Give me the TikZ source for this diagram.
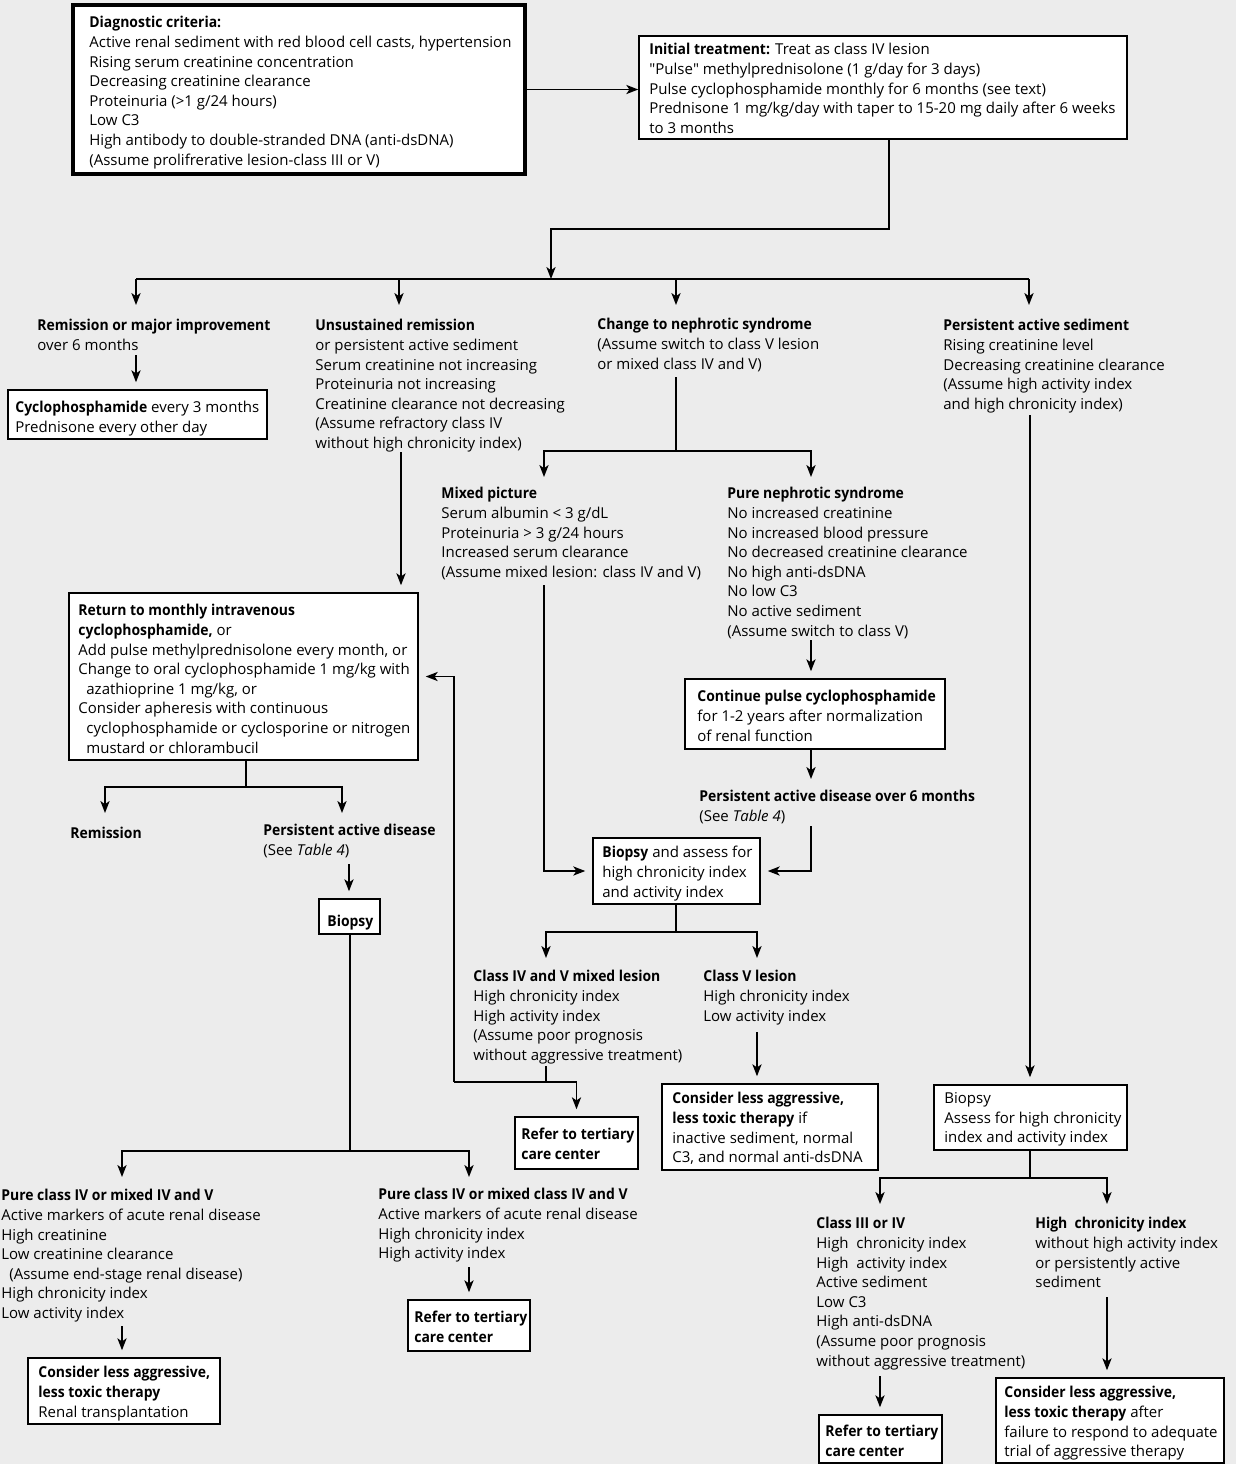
\documentclass[tikz,border=0pt]{standalone}
\usepackage{fontspec}
\setmainfont{Open Sans}[BoldFeatures={FakeStretch=0.93}]
\usetikzlibrary{arrows.meta,fit}
\definecolor{paper}{RGB}{236,236,236}
\newcommand{\chartfont}{\fontsize{7.5}{9.8}\selectfont}

\begin{document}
\begin{tikzpicture}[x=0.5pt, y=-0.5pt,
	line/.style={line width=0.75pt},
	arr/.style={line, -{Stealth[length=6pt, width=4.6pt, inset=1.6pt]}},
	tobox/.style={arr, shorten >=3.5pt},
	box/.style={draw, fill=white, line width=0.75pt, inner sep=0pt},
	txt/.style={anchor=north west, inner sep=0pt, yshift=-1.5pt, align=left, font=\chartfont, execute at begin node=\strut}]
	\fill[paper] (0,0) rectangle (1236,1464);

	\node[box, line width=1.9pt, fit={(73,5) (525,174)}] (diag) {};
	\node[box, fit={(639,36) (1127,139)}] (init) {};
	\node[box, fit={(8,390) (267,439)}] (cyc) {};
	\node[box, fit={(69,593) (418,760)}] (ret) {};
	\node[box, fit={(685,679) (945,749)}] (cont) {};
	\node[box, fit={(319,899) (380,934)}] (bio1) {};
	\node[box, fit={(593,838) (760,904)}] (bioA) {};
	\node[box, fit={(515,1117) (638,1169)}] (ref1) {};
	\node[box, fit={(662,1084) (878,1170)}] (cons1) {};
	\node[box, fit={(934,1085) (1127,1150)}] (bio2) {};
	\node[box, fit={(28,1358) (220,1424)}] (consL) {};
	\node[box, fit={(408,1300) (530,1351)}] (ref2) {};
	\node[box, fit={(819,1415) (942,1463)}] (ref3) {};
	\node[box, fit={(996,1378) (1224,1463)}] (consR) {};

	\node[txt] (diagT) at (89,13) {\textbf{Diagnostic criteria:}\\
		Active renal sediment with red blood cell casts, hypertension\\
		Rising serum creatinine concentration\\
		Decreasing creatinine clearance\\
		Proteinuria (>1 g/24 hours)\\
		Low C3\\
		High antibody to double-stranded DNA (anti-dsDNA)\\
		(Assume prolifrerative lesion-class III or V)};
	\node[txt] (initT) at (649,40) {\textbf{Initial treatment:} Treat as class IV lesion\\
		\textquotedbl Pulse\textquotedbl\ methylprednisolone (1 g/day for 3 days)\\
		Pulse cyclophosphamide monthly for 6 months (see text)\\
		Prednisone 1 mg/kg/day with taper to 15-20 mg daily after 6 weeks\\
		to 3 months};
	\node[txt] (remT) at (37,316) {\textbf{Remission or major improvement}\\ over 6 months};
	\node[txt] (unsT) at (315,316) {\textbf{Unsustained remission}\\
		or persistent active sediment\\
		Serum creatinine not increasing\\
		Proteinuria not increasing\\
		Creatinine clearance not decreasing\\
		(Assume refractory class IV\\
		without high chronicity index)};
	\node[txt] (chgT) at (597,315) {\textbf{Change to nephrotic syndrome}\\
		(Assume switch to class V lesion\\
		or mixed class IV and V)};
	\node[txt] (perT) at (943,316) {\textbf{Persistent active sediment}\\
		Rising creatinine level\\
		Decreasing creatinine clearance\\
		(Assume high activity index\\
		and high chronicity index)};
	\node[txt] (cycT) at (15,398) {\textbf{Cyclophosphamide} every 3 months\\ Prednisone every other day};
	\node[txt] (mixT) at (441,484) {\textbf{Mixed picture}\\
		Serum albumin < 3 g/dL\\
		Proteinuria > 3 g/24 hours\\
		Increased serum clearance\\
		(Assume mixed lesion: class IV and V)};
	\node[txt] (pureT) at (727,484) {\textbf{Pure nephrotic syndrome}\\
		No increased creatinine\\
		No increased blood pressure\\
		No decreased creatinine clearance\\
		No high anti-dsDNA\\
		No low C3\\
		No active sediment\\
		(Assume switch to class V)};
	\node[txt] (retT) at (78,601) {\textbf{Return to monthly intravenous}\\
		\textbf{cyclophosphamide,} or\\
		Add pulse methylprednisolone every month, or\\
		Change to oral cyclophosphamide 1 mg/kg with\\
		\hspace*{4pt}azathioprine 1 mg/kg, or\\
		Consider apheresis with continuous\\
		\hspace*{4pt}cyclophosphamide or cyclosporine or nitrogen\\
		\hspace*{4pt}mustard or chlorambucil};
	\node[txt] (contT) at (697,687) {\textbf{Continue pulse cyclophosphamide}\\
		for 1-2 years after normalization\\
		of renal function};
	\node[txt] (padT) at (699,787) {\textbf{Persistent active disease over 6 months}\\ (See \textit{Table 4})};
	\node[txt] (remisT) at (70,821) {\textbf{Remission}};
	\node[txt] (padLT) at (263,821) {\textbf{Persistent active disease}\\ (See \textit{Table 4})};
	\node[txt] (bio1T) at (327,909) {\textbf{Biopsy}};
	\node[txt] (bioAT) at (602,843) {\textbf{Biopsy} and assess for\\
		high chronicity index\\
		and activity index};
	\node[txt] (clmT) at (473,967) {\textbf{Class IV and V mixed lesion}\\
		High chronicity index\\
		High activity index\\
		(Assume poor prognosis\\
		without aggressive treatment)};
	\node[txt] (clvT) at (703,967) {\textbf{Class V lesion}\\
		High chronicity index\\
		Low activity index};
	\node[txt] (ref1T) at (521,1125) {\textbf{Refer to tertiary}\\ \textbf{care center}};
	\node[txt] (cons1T) at (672,1089) {\textbf{Consider less aggressive,}\\
		\textbf{less toxic therapy} if\\
		inactive sediment, normal\\
		C3, and normal anti-dsDNA};
	\node[txt] (bio2T) at (944,1089) {Biopsy\\
		Assess for high chronicity\\
		index and activity index};
	\node[txt] (pcLT) at (1,1186) {\textbf{Pure class IV or mixed IV and V}\\
		Active markers of acute renal disease\\
		High creatinine\\
		Low creatinine clearance\\
		\hspace*{4pt}(Assume end-stage renal disease)\\
		High chronicity index\\
		Low activity index};
	\node[txt] (pcMT) at (378,1185) {\textbf{Pure class IV or mixed class IV and V}\\
		Active markers of acute renal disease\\
		High chronicity index\\
		High activity index};
	\node[txt] (consLT) at (38,1363) {\textbf{Consider less aggressive,}\\
		\textbf{less toxic therapy}\\
		Renal transplantation};
	\node[txt] (ref2T) at (414,1308) {\textbf{Refer to tertiary}\\ \textbf{care center}};
	\node[txt] (c34T) at (816,1214) {\textbf{Class III or IV}\\
		High\ \ chronicity index\\
		High\ \ activity index\\
		Active sediment\\
		Low C3\\
		High anti-dsDNA\\
		(Assume poor prognosis\\
		without aggressive treatment)};
	\node[txt] (hciT) at (1035,1214) {\textbf{High\ \ chronicity index}\\
		without high activity index\\
		or persistently active\\
		sediment};
	\node[txt] (ref3T) at (825,1422) {\textbf{Refer to tertiary}\\ \textbf{care center}};
	\node[txt] (consRT) at (1004,1383) {\textbf{Consider less aggressive,}\\
		\textbf{less toxic therapy} after\\
		failure to respond to adequate\\
		trial of aggressive therapy};

	\coordinate (j0) at (551,229);
	\coordinate (bar) at (551,279);
	\coordinate (barL) at (136,279);
	\coordinate (barR) at (1029,279);
	\coordinate (remA) at (136,305);
	\coordinate (unsA) at (399,305);
	\coordinate (chgA) at (676,305);
	\coordinate (perA) at (1029,305);
	\coordinate (remO) at (136,355);
	\coordinate (unsO) at (401,452);
	\coordinate (chgO) at (676,377);
	\coordinate (j1) at (676,451);
	\coordinate (mixA) at (544,477);
	\coordinate (pureA) at (811,477);
	\coordinate (mixO) at (544,585);
	\coordinate (pureO) at (811,640);
	\coordinate (padA) at (811,779);
	\coordinate (padO) at (811,826);
	\coordinate (j2) at (246,787);
	\coordinate (remisA) at (105,813);
	\coordinate (padLA) at (342,813);
	\coordinate (padLO) at (349,864);
	\coordinate (j3) at (350,1151);
	\coordinate (pcLA) at (122,1177);
	\coordinate (pcMA) at (469,1177);
	\coordinate (pcLO) at (122,1326);
	\coordinate (pcMO) at (469,1267);
	\coordinate (j4) at (676,932);
	\coordinate (clmA) at (546,958);
	\coordinate (clvA) at (757,958);
	\coordinate (clmO) at (546,1066);
	\coordinate (j5) at (546,1082);
	\coordinate (j6) at (454,1082);
	\coordinate (clvO) at (757,1032);
	\coordinate (perO) at (1030,415);
	\coordinate (j7) at (1030,1178);
	\coordinate (c34A) at (880,1204);
	\coordinate (hciA) at (1107,1204);
	\coordinate (c34O) at (880,1376);
	\coordinate (hciO) at (1107,1297);

	\draw[arr] (diag.east) -- (diag.east -| init.west);
	\draw[arr] ([xshift=3pt]init.south) |- (j0) -- (bar);
	\draw[line] (barL) -- (barR);
	\foreach \n in {remA,unsA,chgA,perA}{
			\draw[arr] (bar -| \n) -- (\n);
		}
	\draw[tobox] (remO) -- (cyc.north -| remO);
	\draw[tobox] (unsO) -- (ret.north -| unsO);
	\draw[line] (chgO) -- (j1);
	\foreach \n in {mixA,pureA}{
			\draw[arr] (j1) -| (\n);
		}
	\draw[tobox] (mixO) |- (bioA.west);
	\draw[tobox] (pureO) -- (cont.north -| pureO);
	\draw[arr] (cont.south -| pureO) -- (padA);
	\draw[tobox] (padO) |- (bioA.east);
	\draw[line] (ret.south -| j2) -- (j2);
	\foreach \n in {remisA,padLA}{
			\draw[arr] (j2) -| (\n);
		}
	\draw[tobox] (padLO) -- (bio1.north -| padLO);
	\draw[line] (bio1.south -| j3) -- (j3);
	\foreach \n in {pcLA,pcMA}{
			\draw[arr] (j3) -| (\n);
		}
	\draw[tobox] (pcLO) -- (consL.north -| pcLO);
	\draw[tobox] (pcMO) -- (ref2.north -| pcMO);
	\draw[line] (bioA.south -| j4) -- (j4);
	\foreach \n in {clmA,clvA}{
			\draw[arr] (j4) -| (\n);
		}
	\draw[line] (clmO) -- (j5);
	\draw[tobox] (j6) -| (ref1.north);
	\draw[tobox] (j6) |- (ret.east);
	\draw[tobox] (clvO) -- (cons1.north -| clvO);
	\draw[tobox] (perO) -- (bio2.north -| perO);
	\draw[line] (bio2.south -| j7) -- (j7);
	\foreach \n in {c34A,hciA}{
			\draw[arr] (j7) -| (\n);
		}
	\draw[tobox] (c34O) -- (ref3.north -| c34O);
	\draw[tobox] (hciO) -- (consR.north -| hciO);
\end{tikzpicture}
\end{document}
